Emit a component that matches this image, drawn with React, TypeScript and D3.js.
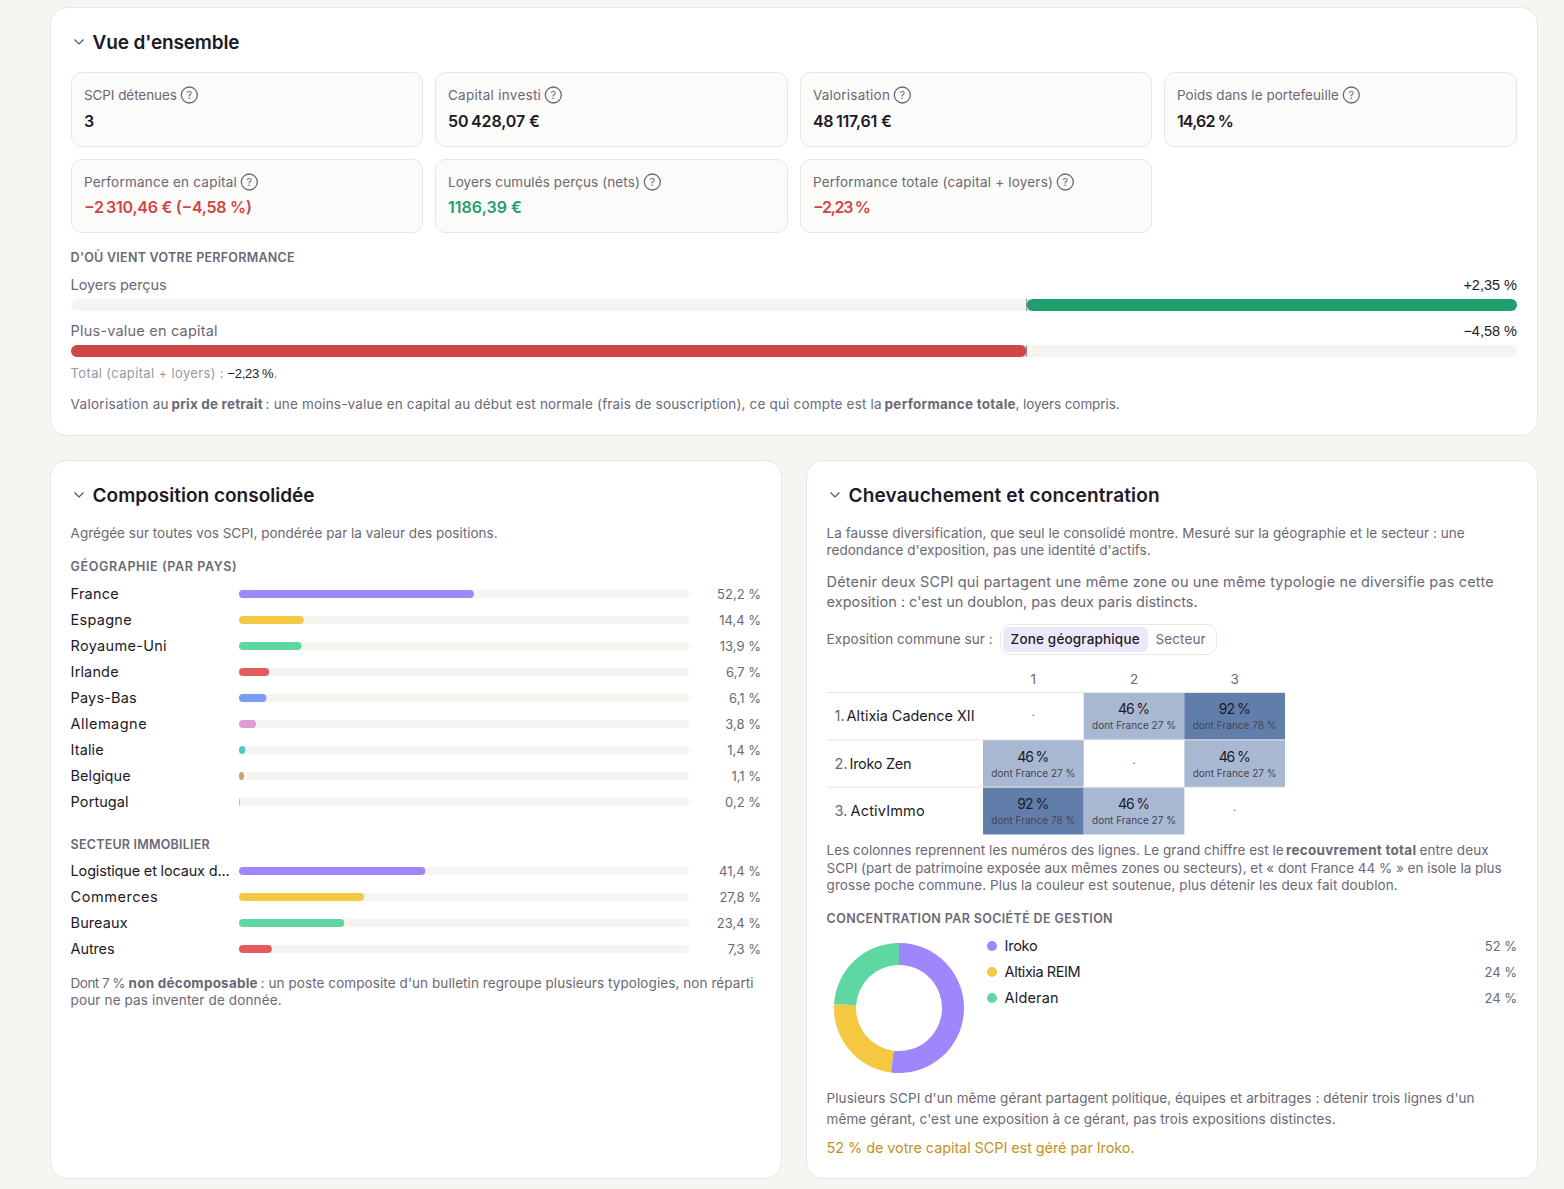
import React from 'react';
import * as d3 from 'd3';

const kpiLabels = ['SCPI détenues', 'Capital investi', 'Valorisation', 'Poids dans le portefeuille', 'Performance en capital', 'Loyers cumulés perçus (nets)', 'Performance totale (capital + loyers)'];
const kpiValues = ['3', '50\u202f428,07 €', '48\u202f117,61 €', '14,62 %', '−2\u202f310,46 € (−4,58 %)', '1186,39 €', '−2,23 %'];
const kpiTones = ['dark', 'dark', 'dark', 'dark', 'neg', 'pos', 'neg'];

const perfLabels = ['Loyers perçus', 'Plus-value en capital'];
const perfValues = [2.35, -4.58];

const geoNames = ['France', 'Espagne', 'Royaume-Uni', 'Irlande', 'Pays-Bas', 'Allemagne', 'Italie', 'Belgique', 'Portugal'];
const geoValues = [52.2, 14.4, 13.9, 6.7, 6.1, 3.8, 1.4, 1.1, 0.2];
const sectorNames = ['Logistique et locaux d...', 'Commerces', 'Bureaux', 'Autres'];
const sectorValues = [41.4, 27.8, 23.4, 7.3];

const scpiNames = ['Altixia Cadence XII', 'Iroko Zen', 'ActivImmo'];
const overlapTotal = [
  [null, 46, 92],
  [46, null, 46],
  [92, 46, null],
];
const overlapFrance = [
  [null, 27, 78],
  [27, null, 27],
  [78, 27, null],
];

const managers = ['Iroko', 'Altixia REIM', 'Alderan'];
const managerShares = [52, 24, 24];

// target text widths, the reference face runs wider than what is installed
const kpiLabelW = [93, 93, 77, 162, 153, 192, 240];
const kpiValueW = [0, 92, 79, 57, 168, 74, 58];
const geoNameW = [48, 61, 96, 48, 66, 76, 33, 60, 58];
const sectorNameW = [159, 87, 57, 44];
const scpiNameX = [847, 850, 851];
const scpiNameW = [128, 62, 74];
const managerW = [33, 76, 54];

const palette = ['#9f87fb', '#f5c842', '#5ed7a1', '#e25c5c', '#7a9cf5', '#e09cd6', '#4ec9d4', '#c4a26e', '#b8a8e0'];
const INK = '#1c1a27';
const GREY = '#6b6875';
const LINE = '#e8e6df';
const TRACK = '#f5f4f0';
const NEG = '#d04545';
const POS = '#1f9e6e';
const FONT = 'Inter, "Noto Sans", sans-serif';
const NUM_FONT = '"Liberation Sans", Arial, sans-serif';

const toneColor = { dark: INK, neg: NEG, pos: POS };

const T = ({ x, y, w, anchor, size = 13.5, fill = GREY, weight = 400, family, children }: any) => (
  <text
    x={anchor ? x : x - 0.4}
    y={y}
    textAnchor={anchor}
    fontSize={size}
    fill={fill}
    fontWeight={weight}
    fontFamily={family}
    textLength={w || undefined}
    lengthAdjust="spacing"
  >
    {children}
  </text>
);

const Card = ({ x, y, w, h }: any) => (
  <rect x={x} y={y} width={w} height={h} rx={16} fill="#fff" stroke={LINE} />
);

const Title = ({ x, y, w, children }: any) => (
  <g>
    <path d={`M${x - 18.5} ${y - 8.5}l4.5 4.5 4.5-4.5`} fill="none" stroke="#55535e" strokeWidth={1.2} />
    <T x={x} y={y + 0.5} w={w} size={19} fill={INK} weight={600}>{children}</T>
  </g>
);

const Help = ({ x, y }: any) => (
  <g>
    <circle cx={x} cy={y} r={8} fill="none" stroke={GREY} strokeWidth={1.3} />
    <text x={x} y={y + 4} textAnchor="middle" fontSize={11} fill={GREY}>?</text>
  </g>
);

const barScale = d3.scaleLinear().domain([0, 100]).range([239, 689]);
const perfScale = d3.scaleLinear().domain([perfValues[1], perfValues[0]]).range([71, 1517]);

const BarRows = ({ names, values, widths, top }: any) => (
  <g>
    {names.map((name: string, i: number) => {
      const cy = top + i * 26;
      return (
        <g key={name}>
          <T x={71} y={cy + 5} w={widths[i]} size={14.5} fill={INK}>{name}</T>
          <rect x={barScale(0)} y={cy - 4} width={barScale(100) - barScale(0)} height={8} rx={4} fill={TRACK} />
          <rect x={barScale(0)} y={cy - 4} width={barScale(values[i]) - barScale(0)} height={8} rx={4} fill={palette[i]} />
          <T x={761} y={cy + 5} anchor="end" size={13}>{values[i].toString().replace('.', ',')} %</T>
        </g>
      );
    })}
  </g>
);

const Kpis = () => {
  const xs = [71.5, 435.5, 800.5, 1164.5];
  const ws = [351, 352, 351, 352];
  return (
    <g>
      {kpiLabels.map((label, i) => {
        const x = xs[i % 4];
        const y = i < 4 ? 72.5 : 159.5;
        const h = i < 4 ? 74 : 73;
        const valueY = i < 4 ? 127 : 213;
        const labelY = i < 4 ? 100 : 187;
        const tx = x + 12.8;
        return (
          <g key={label}>
            <rect x={x} y={y} width={ws[i % 4]} height={h} rx={10} fill="#fbfbf9" stroke={LINE} />
            <T x={tx} y={labelY} w={kpiLabelW[i]}>{label}</T>
            <Help x={tx + kpiLabelW[i] + 12} y={labelY - 5} />
            <T x={tx} y={valueY} w={kpiValueW[i]} size={16} weight={600} fill={toneColor[kpiTones[i]]}>{kpiValues[i]}</T>
          </g>
        );
      })}
    </g>
  );
};

const Perf = () => {
  const zero = perfScale(0);
  return (
    <g>
      <T x={71} y={262} w={224} size={12.5} weight={600}>D'OÙ VIENT VOTRE PERFORMANCE</T>
      {perfLabels.map((label, i) => {
        const barY = i === 0 ? 299 : 345;
        const v = perfValues[i];
        const x0 = perfScale(Math.min(0, v));
        const x1 = perfScale(Math.max(0, v));
        return (
          <g key={label}>
            <T x={71} y={barY - 9} w={i === 0 ? 96 : 147} size={14.5}>{label}</T>
            <T x={1517} y={barY - 9} anchor="end" size={14.5} fill={INK} family={NUM_FONT}>
              {(v > 0 ? '+' : '−') + Math.abs(v).toFixed(2).replace('.', ',')} %
            </T>
            <rect x={71} y={barY} width={1446} height={12} rx={6} fill={TRACK} />
            <rect x={x0} y={barY} width={x1 - x0} height={12} rx={6} fill={v > 0 ? POS : NEG} />
            <line x1={zero} x2={zero} y1={barY} y2={barY + 12} stroke="#8a8890" />
          </g>
        );
      })}
      <T x={71} y={378} w={153} size={13} fill="#9a98a0">Total (capital + loyers) :</T>
      <T x={228} y={378} w={46} size={13} fill={INK} family={NUM_FONT}>−2,23 %</T>
      <T x={274} y={378} size={13} fill="#9a98a0">.</T>
      <T x={71} y={409} w={98}>Valorisation au</T>
      <T x={172} y={409} w={91} weight={700}>prix de retrait</T>
      <T x={266} y={409} w={616}>: une moins-value en capital au début est normale (frais de souscription), ce qui compte est la</T>
      <T x={885} y={409} w={131} weight={700}>performance totale</T>
      <T x={1016} y={409} w={104}>, loyers compris.</T>
    </g>
  );
};

const Composition = () => (
  <g>
    <Title x={93} y={501} w={222}>Composition consolidée</Title>
    <T x={71} y={538} w={427}>Agrégée sur toutes vos SCPI, pondérée par la valeur des positions.</T>
    <T x={71} y={571} w={166} size={12.5} weight={600}>GÉOGRAPHIE (PAR PAYS)</T>
    <BarRows names={geoNames} values={geoValues} widths={geoNameW} top={594} />
    <T x={71} y={849} w={139} size={12.5} weight={600}>SECTEUR IMMOBILIER</T>
    <BarRows names={sectorNames} values={sectorValues} widths={sectorNameW} top={871} />
    <T x={71} y={988} w={55}>Dont 7 %</T>
    <T x={129} y={988} w={129} weight={700}>non décomposable</T>
    <T x={261} y={988} w={493}>: un poste composite d'un bulletin regroupe plusieurs typologies, non réparti</T>
    <T x={71} y={1005} w={211}>pour ne pas inventer de donnée.</T>
  </g>
);

const Heatmap = () => {
  const cols = d3.scaleBand<number>().domain([0, 1, 2]).range([983, 1285]);
  const rows = d3.scaleBand<number>().domain([0, 1, 2]).range([692.5, 834.5]);
  const color = d3.scaleLinear<string>().domain([46, 92]).range(['#a8b8d3', '#617eab']);
  const cw = cols.bandwidth();
  const rh = rows.bandwidth();
  return (
    <g>
      {[0, 1, 2].map((c) => (
        <T key={c} x={cols(c)! + cw / 2} y={684} anchor="middle">{c + 1}</T>
      ))}
      {scpiNames.map((name, r) => {
        const y = rows(r)!;
        return (
          <g key={name}>
            {overlapTotal[r].map((v, c) =>
              v === null ? (
                <T key={c} x={cols(c)! + cw / 2} y={y + rh / 2 + 3} anchor="middle" size={11}>·</T>
              ) : (
                <g key={c}>
                  <rect x={cols(c)!} y={y} width={cw} height={rh} fill={color(v)} />
                  <T x={cols(c)! + cw / 2} y={y + 21.7} w={32} anchor="middle" size={14} fill={INK}>{v} %</T>
                  <T x={cols(c)! + cw / 2} y={y + 36.7} w={84} anchor="middle" size={10} fill="#45434f">dont France {overlapFrance[r][c]} %</T>
                </g>
              ),
            )}
            <line x1={827} x2={1285} y1={y} y2={y} stroke={LINE} />
            <T x={835} y={y + rh / 2 + 5} size={14.5}>{r + 1}.</T>
            <T x={scpiNameX[r]} y={y + rh / 2 + 5} w={scpiNameW[r]} size={14.5} fill={INK}>{name}</T>
          </g>
        );
      })}
    </g>
  );
};

const Donut = () => {
  const pie = d3.pie<number>().sort(null).value((d) => d);
  const arc = d3.arc<d3.PieArcDatum<number>>().innerRadius(43).outerRadius(65);
  return (
    <g>
      <g transform="translate(899,1008)">
        {pie(managerShares).map((d, i) => (
          <path key={managers[i]} d={arc(d)!} fill={palette[i]} />
        ))}
      </g>
      {managers.map((name, i) => {
        const cy = 946 + i * 26;
        return (
          <g key={name}>
            <circle cx={992} cy={cy} r={5} fill={palette[i]} />
            <T x={1005} y={cy + 5} w={managerW[i]} size={14.5} fill={INK}>{name}</T>
            <T x={1517} y={cy + 5} anchor="end" size={13}>{managerShares[i]} %</T>
          </g>
        );
      })}
    </g>
  );
};

const Overlap = () => (
  <g>
    <Title x={849} y={501} w={311}>Chevauchement et concentration</Title>
    <T x={827} y={538} w={638}>La fausse diversification, que seul le consolidé montre. Mesuré sur la géographie et le secteur : une</T>
    <T x={827} y={555} w={324}>redondance d'exposition, pas une identité d'actifs.</T>
    <T x={827} y={587} w={667} size={14.5}>Détenir deux SCPI qui partagent une même zone ou une même typologie ne diversifie pas cette</T>
    <T x={827} y={607} w={371} size={14.5}>exposition : c'est un doublon, pas deux paris distincts.</T>
    <T x={827} y={644} w={166}>Exposition commune sur :</T>
    <rect x={1000.5} y={624.5} width={216} height={30} rx={10} fill="#fff" stroke={LINE} />
    <rect x={1003} y={627} width={145} height={25} rx={6} fill="#ece8fb" />
    <T x={1011} y={644} w={129} size={13.5} fill={INK} weight={500}>Zone géographique</T>
    <T x={1156} y={644} w={50}>Secteur</T>
    <Heatmap />
    <T x={827} y={855} w={457}>Les colonnes reprennent les numéros des lignes. Le grand chiffre est le</T>
    <T x={1286.5} y={855} w={130} weight={700}>recouvrement total</T>
    <T x={1420} y={855} w={69}>entre deux</T>
    <T x={827} y={873} w={675}>SCPI (part de patrimoine exposée aux mêmes zones ou secteurs), et « dont France 44 % » en isole la plus</T>
    <T x={827} y={890} w={571}>grosse poche commune. Plus la couleur est soutenue, plus détenir les deux fait doublon.</T>
    <T x={827} y={923} w={286} size={12.5} weight={600}>CONCENTRATION PAR SOCIÉTÉ DE GESTION</T>
    <Donut />
    <T x={827} y={1103} w={648}>Plusieurs SCPI d'un même gérant partagent politique, équipes et arbitrages : détenir trois lignes d'un</T>
    <T x={827} y={1124} w={509}>même gérant, c'est une exposition à ce gérant, pas trois expositions distinctes.</T>
    <T x={827} y={1153} w={308} size={14.5} fill="#c2921e">52 % de votre capital SCPI est géré par Iroko.</T>
  </g>
);

export default function App() {
  return (
    <svg
      width={1564}
      height={1189}
      fontFamily={FONT}
      style={{ position: 'absolute', left: 0, top: 0, display: 'block', background: '#f6f5f1' }}
    >
      <Card x={50.5} y={7.5} w={1487} h={428} />
      <Title x={93} y={48} w={147}>Vue d'ensemble</Title>
      <Kpis />
      <Perf />
      <Card x={50.5} y={460.5} w={731} h={718} />
      <Composition />
      <Card x={806.5} y={460.5} w={731} h={718} />
      <Overlap />
    </svg>
  );
}
